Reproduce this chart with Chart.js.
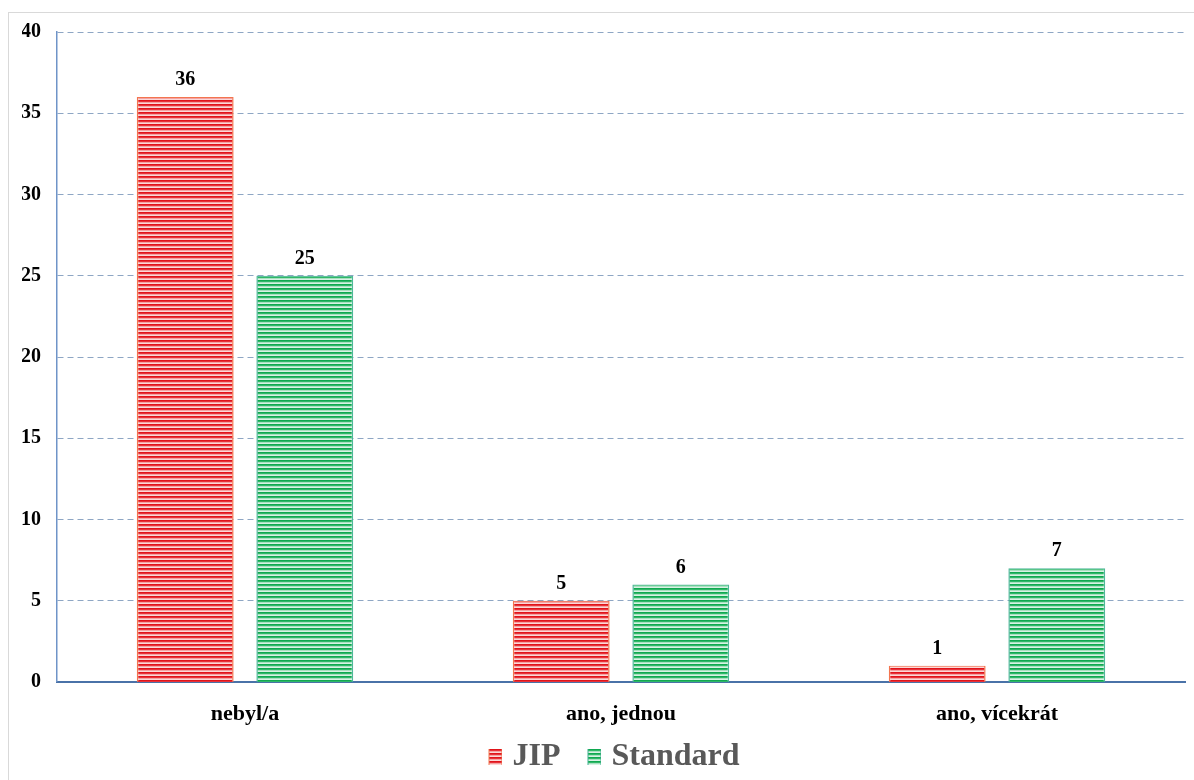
<!DOCTYPE html>
<html>
<head>
<meta charset="utf-8">
<script src="https://cdn.jsdelivr.net/npm/chart.js@4/dist/chart.umd.min.js"></script>
<style>
  html, body { margin: 0; padding: 0; background: #fff; }
  #frame { position: absolute; left: 8px; top: 12px; width: 1200px; height: 780px; border: 1px solid #d9d9d9; box-sizing: border-box; }
  #wrap { position: absolute; left: 0; top: 0; width: 1194px; height: 780px; }
</style>
</head>
<body>
<div id="frame"></div>
<div id="wrap"><canvas id="graf"></canvas></div>
<script>
var kategorie = ['nebyl/a', 'ano, jednou', 'ano, vícekrát'];
var hodnotyJIP = [36, 5, 1];
var hodnotyStandard = [25, 6, 7];

// pruhovana vypln sloupcu
function pruhy(barvy) {
    var c = document.createElement('canvas');
    c.width = 8;
    c.height = barvy.length;
    var g = c.getContext('2d');
    for (var i = 0; i < barvy.length; i++) {
        g.fillStyle = barvy[i];
        g.fillRect(0, i, c.width, 1);
    }
    return c;
}

// ikonka do legendy - ctverecek vpravo, vlevo pruhledne misto
function ikona(barvy, okraj) {
    var c = document.createElement('canvas');
    c.width = 41;
    c.height = 16;
    var g = c.getContext('2d');
    var x0 = 27;
    for (var y = 0; y < 16; y++) {
        g.fillStyle = barvy[y % barvy.length];
        g.fillRect(x0, y, 14, 1);
    }
    g.fillStyle = okraj;
    g.fillRect(x0, 0, 1, 16);
    g.fillRect(x0 + 13, 0, 1, 16);
    return c;
}

var ctx = document.getElementById('graf').getContext('2d');
var cerveneBarvy = ['#e0141a', '#e8323a', '#f4a3a3', '#fbd8d8'];
var zeleneBarvy = ['#10a850', '#30b868', '#a8e0c0', '#d8f2e4'];
var vzorJIP = ctx.createPattern(pruhy(cerveneBarvy), 'repeat');
var vzorStandard = ctx.createPattern(pruhy(zeleneBarvy), 'repeat');

// popisky hodnot nad sloupci
var popiskyHodnot = {
    id: 'popiskyHodnot',
    afterDatasetsDraw: function(chart) {
        var c = chart.ctx;
        c.save();
        c.font = 'bold 20px "Liberation Serif"';
        c.fillStyle = '#000';
        c.textAlign = 'center';
        c.textBaseline = 'bottom';
        chart.data.datasets.forEach(function(ds, i) {
            chart.getDatasetMeta(i).data.forEach(function(bar, j) {
                c.fillText(ds.data[j], bar.x, bar.y - 7);
            });
        });
        c.restore();
    }
};

var chart = new Chart(ctx, {
    type: 'bar',
    data: {
        labels: kategorie,
        datasets: [{
            label: 'JIP',
            data: hodnotyJIP,
            backgroundColor: vzorJIP,
            borderColor: 'rgba(242,110,70,0.95)',
            borderWidth: { left: 1.5, right: 1.5, top: 1, bottom: 0 },
            borderSkipped: false,
            pointStyle: ikona(cerveneBarvy, '#f07850'),
            categoryPercentage: 0.636,
            barPercentage: 0.81
        }, {
            label: 'Standard',
            data: hodnotyStandard,
            backgroundColor: vzorStandard,
            borderColor: 'rgba(70,180,150,0.95)',
            borderWidth: { left: 1.5, right: 1.5, top: 1, bottom: 0 },
            borderSkipped: false,
            pointStyle: ikona(zeleneBarvy, '#40b090'),
            categoryPercentage: 0.636,
            barPercentage: 0.81
        }]
    },
    options: {
        responsive: true,
        maintainAspectRatio: false,
        animation: false,
        layout: { padding: { top: 32, right: 9, left: 22, bottom: -3 } },
        plugins: {
            tooltip: { enabled: false },
            legend: {
                position: 'bottom',
                labels: {
                    usePointStyle: true,
                    boxWidth: 29,
                    padding: 6,
                    color: '#595959',
                    font: { family: 'Liberation Serif', size: 32, weight: 'bold' }
                }
            }
        },
        scales: {
            x: {
                grid: { display: false },
                border: { color: '#4a72a8', width: 2 },
                ticks: {
                    color: '#000',
                    padding: 11,
                    font: { family: 'Liberation Serif', size: 22, weight: 'bold' }
                },
                afterFit: function(s) { s.height = 53; }
            },
            y: {
                min: 0,
                max: 40,
                ticks: {
                    stepSize: 5,
                    color: '#000',
                    padding: 16,
                    font: { family: 'Liberation Serif', size: 20, weight: 'bold' }
                },
                grid: {
                    color: '#8ea6c4',
                    drawTicks: false,
                    lineWidth: function(c) { return c.tick.value === 0 ? 0 : 1; }
                },
                border: { color: '#6f94c8', width: 1.5, dash: [6, 4] },
                afterFit: function(s) { s.width = 35; }
            }
        }
    },
    plugins: [popiskyHodnot]
});
</script>
</body>
</html>
